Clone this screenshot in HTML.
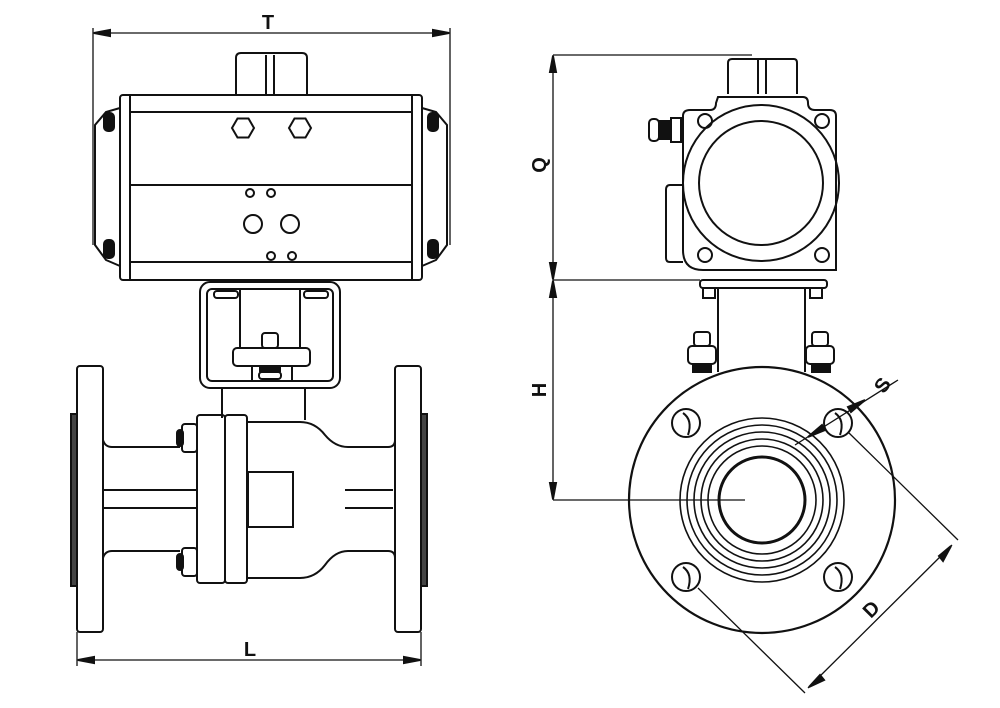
<!DOCTYPE html>
<html><head><style>body{margin:0;background:#fff}svg{display:block}</style></head>
<body>
<svg width="1000" height="708" viewBox="0 0 1000 708" xmlns="http://www.w3.org/2000/svg" font-family="Liberation Sans, sans-serif">
<g fill="none" stroke="#111" stroke-width="2">
<!-- T dimension -->
<line x1="93" y1="33" x2="450" y2="33" stroke-width="1.3"/>
<line x1="93" y1="28" x2="93" y2="245" stroke-width="1.3"/>
<line x1="450" y1="28" x2="450" y2="245" stroke-width="1.3"/>
<polygon points="94,33 110,30 110,36" fill="#111"/>
<polygon points="449,33 433,30 433,36" fill="#111"/>
<!-- actuator left -->
<rect x="120" y="95" width="302" height="185" rx="3"/>
<line x1="130" y1="95" x2="130" y2="280"/><line x1="412" y1="95" x2="412" y2="280"/>
<line x1="130" y1="112" x2="412" y2="112"/><line x1="130" y1="185" x2="412" y2="185"/><line x1="130" y1="262" x2="412" y2="262"/>
<path d="M236 95 V58 Q236 53 241 53 H302 Q307 53 307 58 V95"/>
<line x1="266" y1="55" x2="266" y2="95"/><line x1="274" y1="55" x2="274" y2="95"/>
<polygon points="232,128 237.5,118.5 248.5,118.5 254,128 248.5,137.5 237.5,137.5"/>
<polygon points="289,128 294.5,118.5 305.5,118.5 311,128 305.5,137.5 294.5,137.5"/>
<circle cx="250" cy="193" r="4"/><circle cx="271" cy="193" r="4"/>
<circle cx="253" cy="224" r="9"/><circle cx="290" cy="224" r="9"/>
<circle cx="271" cy="256" r="4"/><circle cx="292" cy="256" r="4"/>
<path d="M120 108 L106 112 L95 125 V245 L106 260 L120 266"/>
<path d="M422 108 L436 112 L447 125 V245 L436 260 L422 266"/>
<rect x="104" y="113" width="10" height="18" rx="4" fill="#111"/><rect x="104" y="240" width="10" height="18" rx="4" fill="#111"/>
<rect x="428" y="113" width="10" height="18" rx="4" fill="#111"/><rect x="428" y="240" width="10" height="18" rx="4" fill="#111"/>
<!-- bracket -->
<rect x="200" y="282" width="140" height="106" rx="10"/>
<rect x="207" y="289" width="126" height="92" rx="5"/>
<line x1="240" y1="290" x2="240" y2="348"/><line x1="300" y1="290" x2="300" y2="348"/>
<rect x="214" y="291" width="24" height="7" rx="3"/><rect x="304" y="291" width="24" height="7" rx="3"/>
<rect x="233" y="348" width="77" height="18" rx="4"/>
<rect x="262" y="333" width="16" height="15" rx="3"/>
<line x1="252" y1="366" x2="252" y2="381"/><line x1="292" y1="366" x2="292" y2="381"/>
<rect x="260" y="366" width="20" height="5" fill="#111"/>
<rect x="259" y="372" width="22" height="7" rx="3"/>
<line x1="222" y1="388" x2="222" y2="418"/><line x1="305" y1="388" x2="305" y2="420"/>
<!-- flanges -->
<rect x="77" y="366" width="26" height="266" rx="3"/>
<rect x="395" y="366" width="26" height="266" rx="3"/>
<rect x="71" y="414" width="6" height="172" fill="#444"/>
<rect x="421" y="414" width="6" height="172" fill="#444"/>
<path d="M103 440 Q105 447 112 447 H180"/><path d="M103 558 Q105 551 112 551 H180"/>
<line x1="103" y1="490" x2="197" y2="490"/><line x1="103" y1="508" x2="197" y2="508"/>
<rect x="197" y="415" width="28" height="168" rx="3"/>
<rect x="225" y="415" width="22" height="168" rx="3"/>
<rect x="182" y="424" width="15" height="28" rx="3"/><rect x="182" y="548" width="15" height="28" rx="3"/>
<rect x="177" y="430" width="6" height="16" rx="3" fill="#111"/><rect x="177" y="554" width="6" height="16" rx="3" fill="#111"/>
<path d="M247 422 H300 Q315 422 325 435 Q335 447 348 447 H388 Q395 447 395 440"/>
<path d="M247 578 H300 Q315 578 325 565 Q335 551 348 551 H388 Q395 551 395 558"/>
<rect x="248" y="472" width="45" height="55"/>
<line x1="345" y1="490" x2="393" y2="490"/><line x1="345" y1="508" x2="393" y2="508"/>
<!-- L dim -->
<line x1="77" y1="632" x2="77" y2="666" stroke-width="1.3"/><line x1="421" y1="632" x2="421" y2="666" stroke-width="1.3"/>
<line x1="77" y1="660" x2="421" y2="660" stroke-width="1.3"/>
<polygon points="78,660 94,657 94,663" fill="#111"/><polygon points="420,660 404,657 404,663" fill="#111"/>

<!-- right view dims -->
<line x1="553" y1="55" x2="752" y2="55" stroke-width="1.3"/>
<line x1="553" y1="280" x2="700" y2="280" stroke-width="1.3"/>
<line x1="553" y1="500" x2="745" y2="500" stroke-width="1.3"/>
<line x1="553" y1="55" x2="553" y2="500" stroke-width="1.3"/>
<polygon points="553,56 550,72 556,72" fill="#111"/><polygon points="553,279 550,263 556,263" fill="#111"/>
<polygon points="553,281 550,297 556,297" fill="#111"/><polygon points="553,499 550,483 556,483" fill="#111"/>
<!-- right actuator -->
<path d="M728 94 V63 Q728 59 732 59 H794 Q797 59 797 63 V94"/>
<line x1="758" y1="60" x2="758" y2="94"/><line x1="766" y1="60" x2="766" y2="94"/>
<path d="M718 97 H803 Q808 97 808 103 Q808 110 815 110 H830 Q836 110 836 116 V270 H703 Q683 270 683 250 V116 Q683 110 690 110 H710 Q716 110 716 103 Z"/>
<path d="M683 185 H670 Q666 185 666 190 V258 Q666 262 670 262 H683"/>
<circle cx="761" cy="183" r="78"/><circle cx="761" cy="183" r="62"/>
<circle cx="705" cy="121" r="7"/><circle cx="822" cy="121" r="7"/>
<circle cx="705" cy="255" r="7"/><circle cx="822" cy="255" r="7"/>
<rect x="649" y="119" width="10" height="22" rx="4"/><rect x="659" y="121" width="12" height="18" fill="#111"/><rect x="671" y="118" width="10" height="24"/>
<rect x="700" y="280" width="127" height="8" rx="3"/>
<rect x="703" y="288" width="12" height="10"/><rect x="810" y="288" width="12" height="10"/>
<line x1="718" y1="288" x2="718" y2="372"/><line x1="805" y1="288" x2="805" y2="372"/>
<rect x="694" y="332" width="16" height="14" rx="3"/><rect x="688" y="346" width="28" height="18" rx="4"/>
<rect x="812" y="332" width="16" height="14" rx="3"/><rect x="806" y="346" width="28" height="18" rx="4"/>
<rect x="693" y="364" width="18" height="8" fill="#111"/><rect x="812" y="364" width="18" height="8" fill="#111"/>
<!-- flange circle -->
<circle cx="762" cy="500" r="133" stroke-width="2.2"/>
<circle cx="762" cy="500" r="82" stroke-width="1.6"/><circle cx="762" cy="500" r="75" stroke-width="1.6"/>
<circle cx="762" cy="500" r="68" stroke-width="1.6"/><circle cx="762" cy="500" r="61" stroke-width="1.6"/>
<circle cx="762" cy="500" r="54" stroke-width="1.6"/>
<circle cx="762" cy="500" r="43" stroke-width="3"/>
<circle cx="686" cy="423" r="14"/><circle cx="838" cy="423" r="14"/>
<circle cx="686" cy="577" r="14"/><circle cx="838" cy="577" r="14"/>
<path d="M683 413 Q693 420 688 435"/><path d="M835 413 Q845 420 840 435"/>
<path d="M683 567 Q693 574 688 589"/><path d="M835 567 Q845 574 840 589"/>
<!-- S dim -->
<line x1="795" y1="445" x2="898" y2="380" stroke-width="1.3"/>
<polygon points="808,437 822,425 825,430" fill="#111"/><polygon points="865,400 851,412 848,407" fill="#111"/>
<!-- D dim -->
<line x1="848" y1="432" x2="958" y2="540" stroke-width="1.3"/>
<line x1="698" y1="588" x2="805" y2="693" stroke-width="1.3"/>
<line x1="952" y1="545" x2="808" y2="688" stroke-width="1.3"/>
<polygon points="951,546 939,556 943,561" fill="#111" transform=""/>
<polygon points="809,687 820,675 824,680" fill="#111"/>
</g>
<g fill="#111" font-size="20" font-weight="bold" text-anchor="middle">
<text x="268" y="29">T</text>
<text x="250" y="656">L</text>
<text x="0" y="0" transform="translate(546,165) rotate(-90)">Q</text>
<text x="0" y="0" transform="translate(546,390) rotate(-90)">H</text>
<text x="0" y="0" transform="translate(888,389) rotate(-55)">S</text>
<text x="0" y="0" transform="translate(876,614) rotate(-45)">D</text>
</g>
</svg>
</body></html>
